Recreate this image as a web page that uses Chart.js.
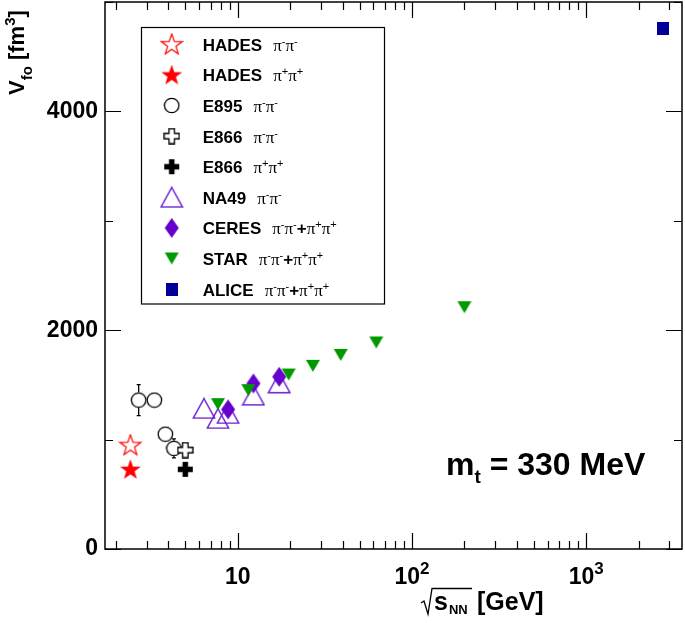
<!DOCTYPE html>
<html>
<head>
<meta charset="utf-8">
<script src="https://cdn.jsdelivr.net/npm/chart.js@4.4.0/dist/chart.umd.min.js"></script>
<style>
    html, body { margin: 0; padding: 0; background: #fff; }
    #wrap { width: 685px; height: 623px; }
</style>
</head>
<body>
<div id="wrap"><canvas id="vfoChart" width="685" height="623"></canvas></div>
<script>
const SANS = "'Liberation Sans', Arial, sans-serif";
const SERIF = "'Liberation Serif', 'Times New Roman', serif";

// Data (sqrt(s_NN) in GeV, V_fo in fm^3)
const hadesNegX = [2.42];
const hadesNegY = [950];
const hadesPosX = [2.42];
const hadesPosY = [728];
const e895X = [2.70, 3.32, 3.84, 4.30];
const e895Y = [1361, 1361, 1050, 920];
const e895Err = [142, 0, 0, 87];
const e866NegX = [5.0];
const e866NegY = [904];
const e866PosX = [5.0];
const e866PosY = [728];
const na49X = [6.4, 7.7, 8.8, 12.3, 17.3];
const na49Y = [1285, 1193, 1239, 1406, 1519];
const ceresX = [8.8, 12.3, 17.3];
const ceresY = [1276, 1513, 1574];
const starX = [7.7, 11.5, 19.6, 27, 39, 62.4, 200];
const starY = [1324, 1452, 1595, 1674, 1774, 1888, 2210];
const aliceX = [2760];
const aliceY = [4755];

const seriesLabels = [
    'HADES π⁻π⁻', 'HADES π⁺π⁺', 'E895 π⁻π⁻', 'E866 π⁻π⁻', 'E866 π⁺π⁺',
    'NA49 π⁻π⁻', 'CERES π⁻π⁻+π⁺π⁺', 'STAR π⁻π⁻+π⁺π⁺', 'ALICE π⁻π⁻+π⁺π⁺'
];

// Axis ticks
const xLabelValues = [10, 100, 1000];
const xLabelExps = ['', '2', '3'];
const yLabelValues = [0, 2000, 4000];

// --- marker images ---
function makeMarker(w, h, draw) {
    const c = document.createElement('canvas');
    c.width = w;
    c.height = h;
    draw(c.getContext('2d'), w, h);
    return c;
}

function starPath(g, cx, cy, R, r) {
    g.beginPath();
    for (let i = 0; i < 10; i++) {
        const rad = i % 2 === 0 ? R : r;
        const a = -Math.PI / 2 + i * Math.PI / 5;
        const px = cx + rad * Math.cos(a), py = cy + rad * Math.sin(a);
        if (i === 0) g.moveTo(px, py); else g.lineTo(px, py);
    }
    g.closePath();
}

function crossPath(g, s, t) {
    const a = (s - t) / 2, b = (s + t) / 2;
    g.beginPath();
    g.moveTo(a, 1); g.lineTo(b, 1); g.lineTo(b, a); g.lineTo(s - 1, a);
    g.lineTo(s - 1, b); g.lineTo(b, b); g.lineTo(b, s - 1); g.lineTo(a, s - 1);
    g.lineTo(a, b); g.lineTo(1, b); g.lineTo(1, a); g.lineTo(a, a);
    g.closePath();
}

const mkOpenStar = makeMarker(24, 23, function(g) {
    starPath(g, 12, 12.2, 11, 4.4);
    g.strokeStyle = '#ff0000'; g.lineWidth = 1.2; g.stroke();
});
const mkFullStar = makeMarker(24, 23, function(g) {
    starPath(g, 12, 12.2, 11, 4.4);
    g.fillStyle = '#ff0000'; g.fill();
});
const mkCircle = makeMarker(17, 17, function(g) {
    g.beginPath(); g.arc(8.5, 8.5, 7.2, 0, Math.PI * 2);
    g.strokeStyle = '#000'; g.lineWidth = 1.3; g.stroke();
});
const mkOpenCross = makeMarker(17, 17, function(g) {
    crossPath(g, 17, 5.5);
    g.fillStyle = '#fff'; g.fill();
    g.strokeStyle = '#000'; g.lineWidth = 1.3; g.stroke();
});
const mkFullCross = makeMarker(17, 17, function(g) {
    crossPath(g, 17, 5.5);
    g.fillStyle = '#000'; g.fill();
});
const mkOpenTri = makeMarker(24, 22, function(g) {
    g.beginPath(); g.moveTo(12, 1.2); g.lineTo(1.2, 20.8); g.lineTo(22.8, 20.8); g.closePath();
    g.strokeStyle = '#6a1fd0'; g.lineWidth = 1.4; g.stroke();
});
const mkDiamond = makeMarker(16, 22, function(g) {
    g.beginPath(); g.moveTo(8, 1); g.lineTo(15, 11); g.lineTo(8, 21); g.lineTo(1, 11); g.closePath();
    g.fillStyle = '#6600cc'; g.fill();
});
const mkTriDown = makeMarker(16, 14, function(g) {
    g.beginPath(); g.moveTo(1, 1); g.lineTo(15, 1); g.lineTo(8, 13); g.closePath();
    g.fillStyle = '#009900'; g.fill();
});
const mkSquare = makeMarker(12, 13, function(g) {
    g.fillStyle = '#000099'; g.fillRect(0, 0, 12, 13);
});

const markers = [mkOpenStar, mkFullStar, mkCircle, mkOpenCross, mkFullCross, mkOpenTri, mkDiamond, mkTriDown, mkSquare];
const seriesX = [hadesNegX, hadesPosX, e895X, e866NegX, e866PosX, na49X, ceresX, starX, aliceX];
const seriesY = [hadesNegY, hadesPosY, e895Y, e866NegY, e866PosY, na49Y, ceresY, starY, aliceY];

const datasets = seriesLabels.map(function(label, i) {
    return {
        label: label,
        data: seriesX[i].map(function(x, j) { return { x: x, y: seriesY[i][j] }; }),
        pointStyle: markers[i],
        pointRadius: 8,
        showLine: false,
        order: seriesLabels.length - i,
        errorBars: i === 2 ? e895Err : null
    };
});

// error bars (drawn outside the marker only)
const errorBarPlugin = {
    id: 'errorBars',
    afterDatasetsDraw: function(chart) {
        const ctx = chart.ctx, y = chart.scales.y;
        ctx.save();
        ctx.strokeStyle = '#000';
        ctx.lineWidth = 1.3;
        chart.data.datasets.forEach(function(ds, i) {
            if (!ds.errorBars) return;
            const meta = chart.getDatasetMeta(i);
            meta.data.forEach(function(pt, j) {
                const e = ds.errorBars[j];
                const d = Math.abs(y.getPixelForValue(ds.data[j].y + e) - pt.y);
                const r = 7.5;
                if (d <= r) return;
                ctx.beginPath();
                ctx.moveTo(pt.x, pt.y - r); ctx.lineTo(pt.x, pt.y - d);
                ctx.moveTo(pt.x, pt.y + r); ctx.lineTo(pt.x, pt.y + d);
                ctx.moveTo(pt.x - 2, pt.y - d); ctx.lineTo(pt.x + 2, pt.y - d);
                ctx.moveTo(pt.x - 2, pt.y + d); ctx.lineTo(pt.x + 2, pt.y + d);
                ctx.stroke();
            });
        });
        ctx.restore();
    }
};

function drawRich(ctx, label, x, y) {
    const sp = label.indexOf(' ');
    const name = label.slice(0, sp), rest = label.slice(sp + 1);
    ctx.font = 'bold 17px ' + SANS;
    ctx.fillText(name, x, y);
    x += ctx.measureText(name).width + 11;
    for (const ch of rest) {
        if (ch === 'π') {
            ctx.font = '17px ' + SERIF;
            ctx.fillText('π', x, y);
            x += ctx.measureText('π').width;
        } else if (ch === '⁻' || ch === '⁺') {
            const s = ch === '⁻' ? '-' : '+';
            ctx.font = '11px ' + SANS;
            ctx.fillText(s, x, y - 6);
            x += ctx.measureText(s).width;
        } else {
            ctx.font = 'bold 17px ' + SANS;
            ctx.fillText(ch, x, y);
            x += ctx.measureText(ch).width;
        }
    }
}

const framePlugin = {
    id: 'frame',
    afterDraw: function(chart) {
        const ctx = chart.ctx, a = chart.chartArea;
        const xs = chart.scales.x, ys = chart.scales.y;
        ctx.save();
        ctx.strokeStyle = '#000';
        ctx.fillStyle = '#000';
        ctx.lineWidth = 1.5;
        ctx.strokeRect(a.left, a.top, a.right - a.left, a.bottom - a.top);

        // x ticks (bottom and top, inside)
        ctx.lineWidth = 1.2;
        ctx.beginPath();
        for (let d = 1; d <= 1000; d *= 10) {
            for (let m = 1; m <= 9; m++) {
                const v = m * d;
                if (v < xs.min || v > xs.max) continue;
                const px = Math.round(xs.getPixelForValue(v)) + 0.5;
                const len = m === 1 ? 16 : 8;
                ctx.moveTo(px, a.bottom); ctx.lineTo(px, a.bottom - len);
                ctx.moveTo(px, a.top); ctx.lineTo(px, a.top + len);
            }
        }
        // y ticks (left and right, inside)
        for (let v = 0; v <= 5000; v += 1000) {
            const py = Math.round(ys.getPixelForValue(v)) + 0.5;
            const len = v % 2000 === 0 ? 16 : 8;
            ctx.moveTo(a.left, py); ctx.lineTo(a.left + len, py);
            ctx.moveTo(a.right, py); ctx.lineTo(a.right - len, py);
        }
        ctx.stroke();

        // x tick labels with exponents
        ctx.textBaseline = 'alphabetic';
        xLabelValues.forEach(function(v, i) {
            const px = xs.getPixelForValue(v);
            ctx.font = 'bold 23px ' + SANS;
            const w1 = ctx.measureText('10').width;
            ctx.font = 'bold 17px ' + SANS;
            const w2 = xLabelExps[i] ? ctx.measureText(xLabelExps[i]).width : 0;
            const x0 = px - (w1 + w2) / 2;
            ctx.font = 'bold 23px ' + SANS;
            ctx.fillText('10', x0, 584);
            if (xLabelExps[i]) {
                ctx.font = 'bold 17px ' + SANS;
                ctx.fillText(xLabelExps[i], x0 + w1, 574);
            }
        });

        // x title: sqrt(s_NN) [GeV]
        ctx.lineWidth = 1.3;
        ctx.beginPath();
        ctx.moveTo(421, 603); ctx.lineTo(424, 601); ctx.lineTo(428, 614); ctx.lineTo(432, 588.5); ctx.lineTo(472, 588.5);
        ctx.stroke();
        ctx.font = 'bold 25px ' + SANS;
        ctx.fillText('s', 434, 610);
        let sx = 434 + ctx.measureText('s').width + 1;
        ctx.font = 'bold 13px ' + SANS;
        ctx.fillText('NN', sx, 614);
        ctx.font = 'bold 25px ' + SANS;
        ctx.fillText('[GeV]', 477, 610);

        // y title: V_fo [fm^3]
        ctx.save();
        ctx.translate(23.5, 95);
        ctx.rotate(-Math.PI / 2);
        let tx = 0;
        ctx.font = 'bold 22px ' + SANS;
        ctx.fillText('V', tx, 0); tx += ctx.measureText('V').width;
        ctx.font = 'bold 15px ' + SANS;
        ctx.fillText('fo', tx, 8); tx += ctx.measureText('fo').width;
        ctx.font = 'bold 22px ' + SANS;
        ctx.fillText(' [fm', tx, 0); tx += ctx.measureText(' [fm').width;
        ctx.font = 'bold 15px ' + SANS;
        ctx.fillText('3', tx, -9); tx += ctx.measureText('3').width;
        ctx.font = 'bold 22px ' + SANS;
        ctx.fillText(']', tx, 0);
        ctx.restore();

        // m_t annotation
        let mx = 446;
        ctx.font = 'bold 32px ' + SANS;
        ctx.fillText('m', mx, 475); mx += ctx.measureText('m').width;
        ctx.font = 'bold 19px ' + SANS;
        ctx.fillText('t', mx, 483); mx += ctx.measureText('t').width;
        ctx.font = 'bold 32px ' + SANS;
        ctx.fillText(' = 330 MeV', mx, 475);

        // legend
        ctx.fillStyle = '#fff';
        ctx.fillRect(141.5, 27.5, 243, 276.5);
        ctx.lineWidth = 1.2;
        ctx.strokeRect(141.5, 27.5, 243, 276.5);
        ctx.fillStyle = '#000';
        chart.data.datasets.forEach(function(ds, i) {
            const cy = 44.3 + i * 30.6;
            const img = ds.pointStyle;
            ctx.drawImage(img, 171.7 - img.width / 2, cy - img.height / 2);
            drawRich(ctx, ds.label, 202.7, cy + 6.5);
        });
        ctx.restore();
    }
};

document.addEventListener('DOMContentLoaded', function() {
    const ctx = document.getElementById('vfoChart');
    new Chart(ctx, {
        type: 'scatter',
        data: { datasets: datasets },
        plugins: [errorBarPlugin, framePlugin],
        options: {
            responsive: false,
            animation: false,
            devicePixelRatio: 1,
            layout: { autoPadding: false, padding: { top: 2, right: 3, left: 0, bottom: 0 } },
            plugins: {
                legend: { display: false },
                tooltip: { enabled: false }
            },
            scales: {
                x: {
                    type: 'logarithmic',
                    min: 1.73,
                    max: 3550,
                    grid: { display: false, drawTicks: false },
                    border: { display: false },
                    ticks: { display: false },
                    afterFit: function(scale) {
                        scale.height = 74;
                        scale.paddingLeft = 0; scale.paddingRight = 0;
                        scale.paddingTop = 0; scale.paddingBottom = 0;
                    }
                },
                y: {
                    min: 0,
                    max: 5000,
                    grid: { display: false, drawTicks: false },
                    border: { display: false },
                    ticks: {
                        stepSize: 1000,
                        autoSkip: false,
                        padding: 7,
                        color: '#000',
                        font: { family: SANS, size: 23, weight: 'bold' },
                        callback: function(v) {
                            return yLabelValues.indexOf(v) >= 0 ? String(v) : '';
                        }
                    },
                    afterFit: function(scale) {
                        scale.width = 105;
                        scale.paddingLeft = 0; scale.paddingRight = 0;
                        scale.paddingTop = 0; scale.paddingBottom = 0;
                    }
                }
            }
        }
    });
});
</script>
</body>
</html>
